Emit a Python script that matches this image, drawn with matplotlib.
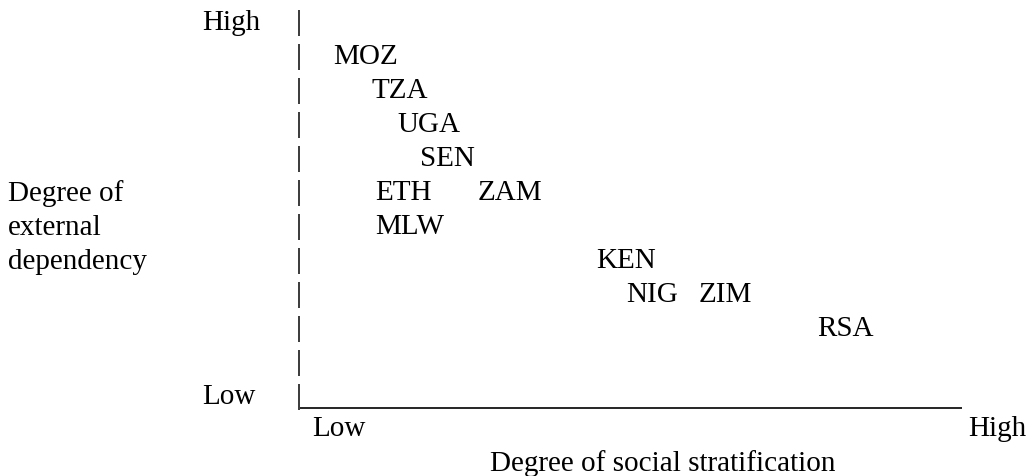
import matplotlib
matplotlib.use("Agg")
import matplotlib.pyplot as plt

# ---- data (label position: stratification on 0-10 scale, dependency rank 0-11) ----
countries = ["MOZ", "TZA", "UGA", "SEN", "ETH", "ZAM", "MLW", "KEN", "NIG", "ZIM", "RSA"]
stratification = [0.52, 1.10, 1.49, 1.83, 1.15, 2.70, 1.15, 4.49, 4.93, 6.03, 7.81]
dependency = [10, 9, 8, 7, 6, 6, 5, 4, 3, 3, 2]
axis_levels = ["Low", "High"]
x_title = "Degree of social stratification"
y_title = "Degree of\nexternal\ndependency"

W, H, DPI = 1029, 477, 100
FONT = "Liberation Serif"
FS = 21.0

fig = plt.figure(figsize=(W / DPI, H / DPI), dpi=DPI)
# pixel geometry of the plotting region
x0_px, x1_px = 299, 962      # x = 0 .. 10
y0_px, y1_px = 404, 30       # y = 0 .. 11 (baselines)
ax = fig.add_axes([x0_px / W, (H - y0_px) / H, (x1_px - x0_px) / W, (y0_px - y1_px) / H])
ax.set_xlim(0, 10)
ax.set_ylim(0, 11)
ax.axis("off")

sx = (x1_px - x0_px) / 10.0
sy = (y0_px - y1_px) / 11.0
def dx(px):
    return (px - x0_px) / sx
def dy(py):
    return (y0_px - py) / sy

kw = dict(family=FONT, fontsize=FS, color="black", clip_on=False, va="baseline")

# vertical axis drawn as typed bars
for r in range(12):
    ax.text(0, r, "|", ha="center", **kw)

# horizontal axis line
ax.plot([dx(300), dx(962)], [dy(409), dy(409)], color="black", lw=1.2,
        solid_capstyle="butt", clip_on=False)

# country labels
for name, xv, yv in zip(countries, stratification, dependency):
    ax.text(xv, yv, name, ha="left", **kw)

# y axis level labels
ax.text(dx(202), 11, axis_levels[1], ha="left", **kw)
ax.text(dx(202), 0, axis_levels[0], ha="left", **kw)
# x axis level labels
ax.text(dx(312), dy(436), axis_levels[0], ha="left", **kw)
ax.text(dx(968), dy(436), axis_levels[1], ha="left", **kw)

# titles
ax.text(dx(490), dy(471), x_title, ha="left", **kw)
ytl = y_title.split("\n")
for i, line in enumerate(ytl):
    ax.text(dx(8), dy(201 + 34 * i), line, ha="left", **kw)

fig.savefig("out.png", dpi=DPI)
